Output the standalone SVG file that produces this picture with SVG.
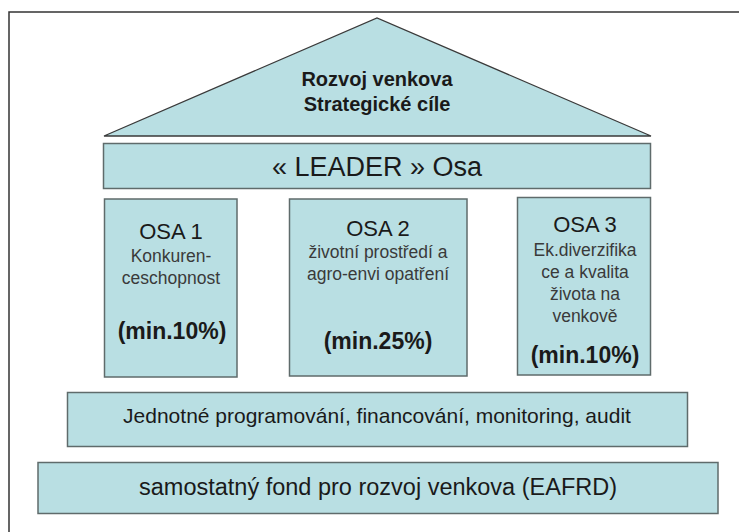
<svg xmlns="http://www.w3.org/2000/svg" width="739" height="532" viewBox="0 0 739 532">
<style>
.box{fill:#b9dfe3;stroke:#5f6b6b;stroke-width:1.5}
.roof{fill:#b9dfe3;stroke:#3a3a3a;stroke-width:1.3;stroke-linejoin:miter}
.t{font-family:"Liberation Sans",Arial,sans-serif;fill:#1a1a1a;text-anchor:middle}
.b{font-weight:bold}
.s{font-size:17.5px;fill:#3a3a3a}
.p{font-weight:bold;font-size:23px}
</style>
<rect width="739" height="532" fill="#ffffff"/>
<path d="M9 532 V12 H739" fill="none" stroke="#333" stroke-width="1.5"/>
<g id="roof">
<polygon class="roof" points="104,136 377,18 651,136"/>
<text class="t b" x="377" y="86" font-size="20">Rozvoj venkova</text>
<text class="t b" x="377" y="111" font-size="20">Strategické cíle</text>
</g>
<g id="leader">
<rect class="box" x="103.5" y="143.5" width="547" height="45"/>
<text class="t" x="377" y="176" font-size="27">« LEADER » Osa</text>
</g>
<g id="osa1">
<rect class="box" x="104.5" y="199" width="132.5" height="178"/>
<text class="t" x="171" y="239" font-size="22">OSA 1</text>
<text class="t s" x="171" y="262">Konkuren-</text>
<text class="t s" x="171" y="284">ceschopnost</text>
<text class="t p" x="172" y="339">(min.10%)</text>
</g>
<g id="osa2">
<rect class="box" x="289.5" y="199" width="177.5" height="177"/>
<text class="t" x="378" y="236" font-size="22">OSA 2</text>
<text class="t s" x="378" y="258">životní prostředí a</text>
<text class="t s" x="378" y="280">agro-envi opatření</text>
<text class="t p" x="378" y="349">(min.25%)</text>
</g>
<g id="osa3">
<rect class="box" x="517.5" y="197.5" width="133" height="177.5"/>
<text class="t" x="585" y="232" font-size="22">OSA 3</text>
<text class="t s" x="585" y="256">Ek.diverzifika</text>
<text class="t s" x="585" y="278">ce a kvalita</text>
<text class="t s" x="585" y="300">života na</text>
<text class="t s" x="585" y="322">venkově</text>
<text class="t p" x="585" y="363">(min.10%)</text>
</g>
<g id="jednotne">
<rect class="box" x="67.5" y="392.5" width="620" height="54"/>
<text class="t" x="377" y="423" font-size="21">Jednotné programování, financování, monitoring, audit</text>
</g>
<g id="fond">
<rect class="box" x="38" y="462.5" width="680" height="51"/>
<text class="t" x="378" y="495" font-size="23.5">samostatný fond pro rozvoj venkova (EAFRD)</text>
</g>
<g id="connectors"></g>
</svg>
